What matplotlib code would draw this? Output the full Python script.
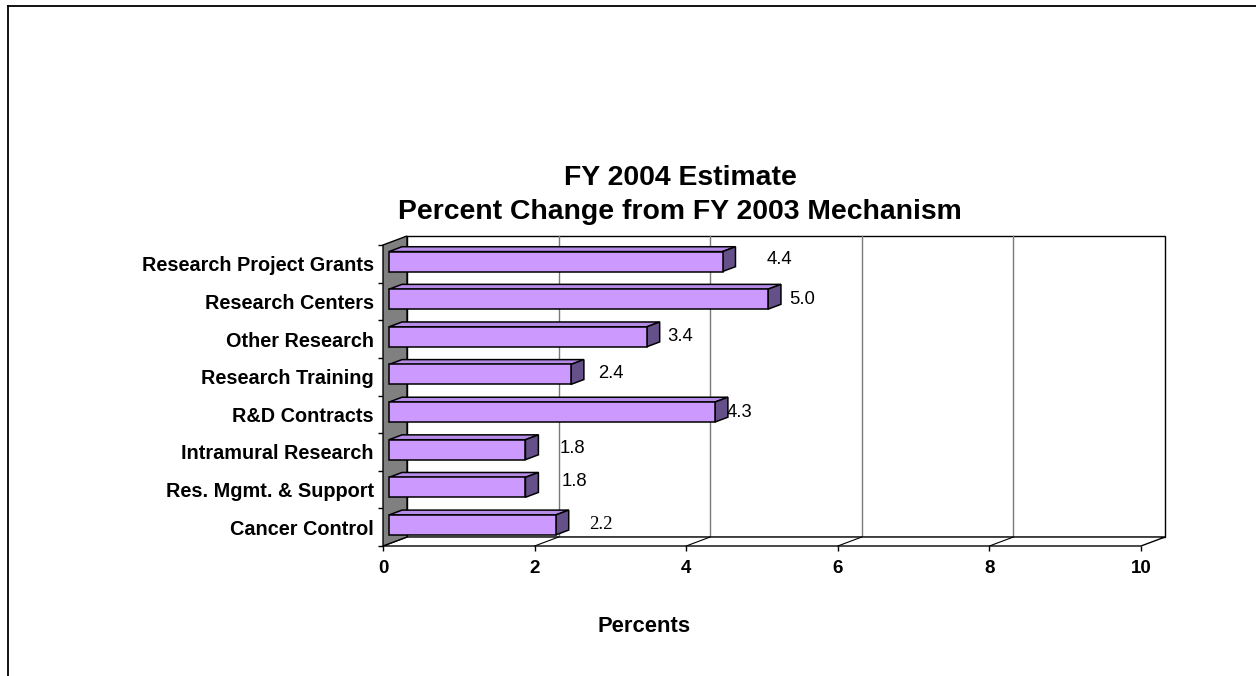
import matplotlib
matplotlib.use('Agg')
import matplotlib.pyplot as plt
from matplotlib.patches import Polygon
from matplotlib.transforms import IdentityTransform
from matplotlib.lines import Line2D
import numpy as np

# ---------------- data ----------------
categories = ["Research Project Grants", "Research Centers", "Other Research",
              "Research Training", "R&D Contracts", "Intramural Research",
              "Res. Mgmt. & Support", "Cancer Control"]
values = [4.4, 5.0, 3.4, 2.4, 4.3, 1.8, 1.8, 2.2]
value_labels = ["4.4", "5.0", "3.4", "2.4", "4.3", "1.8", "1.8", "2.2"]
x_ticks = [0, 2, 4, 6, 8, 10]
title_lines = ["FY 2004 Estimate", "Percent Change from FY 2003 Mechanism"]
x_title = "Percents"

# ---------------- layout / style ----------------
W, H, DPI = 1256, 676, 100
label_dx_px = [62.6, 40, 39.6, 46.1, 30.2, 53.2, 55.2, 50.8]
label_dy_px = [-5.8, -3.4, -4.0, -4.9, -3.2, -5.1, -9.4, -4.0]
label_serif = [False, False, False, False, False, False, False, True]
title_y_px = [178, 212]
DX, DY = 24, 9          # depth vector (display px)
F0, F1 = 0.25, 0.79     # bar depth range
BAR_H = 0.53
FRONT = '#CC99FF'
TOP = '#B68BE8'
SIDE = '#66508A'
WALL = '#808080'
GRID = '#7A7A7A'

plt.rcParams['font.family'] = ['Liberation Sans', 'DejaVu Sans']

fig = plt.figure(figsize=(W / DPI, H / DPI), dpi=DPI)
fig.patch.set_facecolor('white')
ax = fig.add_axes([383 / W, 130 / H, 758 / W, 301 / H])
n = len(categories)
ax.set_xlim(x_ticks[0], x_ticks[-1])
ax.set_ylim(n - 0.5, -0.5)
ax.patch.set_visible(False)
for s in ax.spines.values():
    s.set_visible(False)


def P(x, y, d):
    px, py = ax.transData.transform((x, y))
    return (px + d * DX, py + d * DY)


def poly(pts, **kw):
    ax.add_patch(Polygon(pts, closed=True, transform=IdentityTransform(),
                         clip_on=False, **kw))


def seg(p, q, **kw):
    ax.add_line(Line2D([p[0], q[0]], [p[1], q[1]], transform=IdentityTransform(),
                       clip_on=False, **kw))


xmin, xmax = x_ticks[0], x_ticks[-1]
ytop, ybot = -0.5, n - 0.5

# back wall
poly([P(xmin, ytop, 1), P(xmax, ytop, 1), P(xmax, ybot, 1), P(xmin, ybot, 1)],
     fc='white', ec='black', lw=1.0, zorder=1)
for t in x_ticks[1:-1]:
    seg(P(t, ytop, 1), P(t, ybot, 1), color=GRID, lw=1.0, zorder=1.5)

# floor
poly([P(xmin, ybot, 0), P(xmax, ybot, 0), P(xmax, ybot, 1), P(xmin, ybot, 1)],
     fc='white', ec='black', lw=1.0, zorder=2)
for t in x_ticks[1:-1]:
    seg(P(t, ybot, 0), P(t, ybot, 1), color='black', lw=0.8, zorder=2.1)

# left wall
poly([P(xmin, ytop, 0), P(xmin, ytop, 1), P(xmin, ybot, 1), P(xmin, ybot, 0)],
     fc=WALL, ec='black', lw=1.0, zorder=3)

# bars
for i, v in enumerate(values):
    y0, y1 = i - BAR_H / 2, i + BAR_H / 2
    poly([P(0, y0, F0), P(v, y0, F0), P(v, y0, F1), P(0, y0, F1)],
         fc=TOP, ec='black', lw=1.1, zorder=4)
    poly([P(v, y0, F0), P(v, y1, F0), P(v, y1, F1), P(v, y0, F1)],
         fc=SIDE, ec='black', lw=1.1, zorder=4)
    poly([P(0, y0, F0), P(v, y0, F0), P(v, y1, F0), P(0, y1, F0)],
         fc=FRONT, ec='black', lw=1.1, zorder=5)

# value labels
for i, (v, lbl) in enumerate(zip(values, value_labels)):
    if label_serif[i]:
        fam, fs = ['Liberation Serif', 'DejaVu Serif'], 13.5
    else:
        fam, fs = ['Liberation Sans', 'DejaVu Sans'], 13.3
    ax.annotate(lbl, xy=(v, i), xytext=(label_dx_px[i] * 0.72, -label_dy_px[i] * 0.72 - 1),
                textcoords='offset points', ha='center', va='center',
                fontsize=fs, family=fam, color='black', zorder=6, annotation_clip=False)

# axes ticks
ax.set_yticks(range(n))
ax.set_yticklabels(categories, fontsize=14.3, fontweight='bold')
ax.set_yticks(np.arange(-0.5, n, 1.0), minor=True)
ax.tick_params(axis='y', which='major', length=0, pad=6.5)
ax.tick_params(axis='y', which='minor', length=3.6, width=1.0, color='black', direction='out')
ax.set_xticks(x_ticks)
ax.set_xticklabels([str(t) for t in x_ticks], fontsize=13.5, fontweight='bold')
ax.tick_params(axis='x', which='major', length=3.6, width=1.0, color='black',
               direction='out', pad=6.5)

# titles
for line, ypx in zip(title_lines, title_y_px):
    fig.text(680 / W, 1 - ypx / H, line, ha='center', va='center',
             fontsize=20.4, fontweight='bold')
fig.text(644.5 / W, 1 - 626 / H, x_title, ha='center', va='center',
         fontsize=15.8, fontweight='bold')

# outer border (top and left)
fig.add_artist(Line2D([8 / W, 1.0], [1 - 6 / H, 1 - 6 / H], transform=fig.transFigure,
                      color='black', lw=1.3))
fig.add_artist(Line2D([8 / W, 8 / W], [1 - 6 / H, 0.0], transform=fig.transFigure,
                      color='black', lw=1.3))

fig.savefig('out.png', dpi=DPI)
